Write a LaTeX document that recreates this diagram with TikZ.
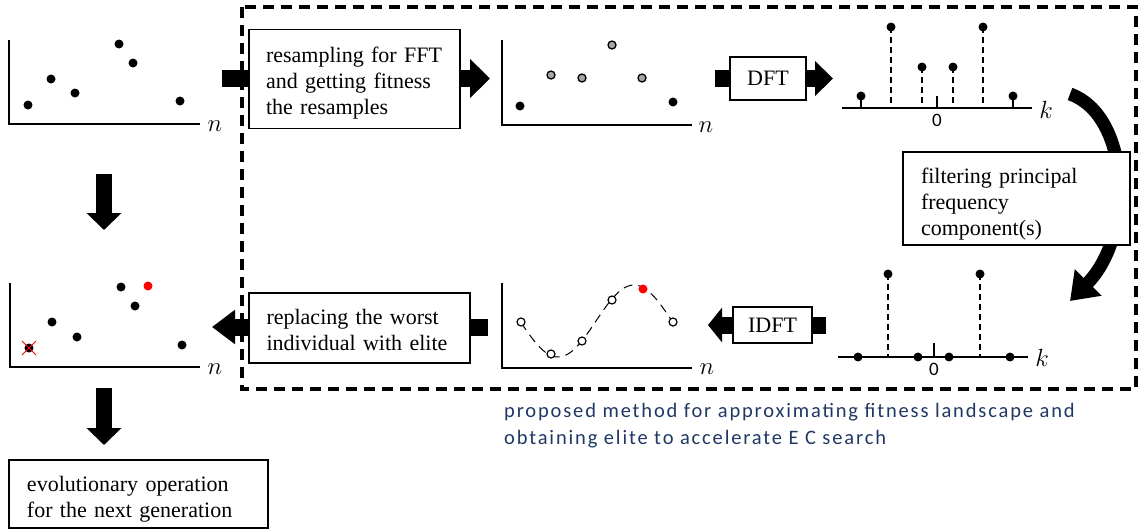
\documentclass[tikz,border=0pt]{standalone}
\usepackage{fontspec}
\setmainfont{Liberation Serif}
\newfontfamily\capfont[LetterSpace=9]{Carlito}
\newfontfamily\zerofont{Carlito}
\usetikzlibrary{arrows.meta}
\definecolor{capblue}{RGB}{31,56,100}
\begin{document}
\begin{tikzpicture}[x=1pt,y=-1pt,
  dot/.style={circle,fill=black,inner sep=0pt,minimum size=9pt},
  gdot/.style={circle,draw=black,fill=black!35,line width=1.3pt,inner sep=0pt,minimum size=8pt},
  odot/.style={circle,draw=black,fill=white,line width=1.2pt,inner sep=0pt,minimum size=8pt},
  rdot/.style={circle,fill=red,inner sep=0pt,minimum size=9pt},
  axis/.style={line width=1.3pt},
  stem/.style={line width=1.3pt,dash pattern=on 6pt off 4pt},
  axlabel/.style={inner sep=0pt,font=\fontsize{24}{24}\selectfont},
  zerolabel/.style={inner sep=0pt,font=\zerofont\fontsize{19}{19}\selectfont},
  procbox/.style={draw,line width=1.2pt,fill=white,align=left,inner sep=0pt,font=\fontsize{22}{26}\selectfont},
  stub/.style={line width=17pt},
  blockarrow/.style={line width=17pt,-{Triangle[length=20pt,width=38pt]}},
  downarrow/.style={line width=16pt,-{Triangle[length=17pt,width=34pt]}},
  frame/.style={line width=3.5pt,dash pattern=on 11pt off 7pt},
  caption/.style={anchor=base west,inner sep=0pt,text=capblue,font=\capfont\fontsize{20.5}{20.5}\selectfont}
]
\useasboundingbox (0,0) rectangle (1139,530);

% dashed frame
\draw[frame] (242,7) rectangle (1136,389);

% ---------- plot 1 (top left)
\draw[axis] (9,40) -- (9,124) -- (200,124);
\node[axlabel] (n1) at (215,126) {$n$};
\node[dot] (a1) at (28,105) {};
\node[dot] (a2) at (51,79) {};
\node[dot] (a3) at (75,93) {};
\node[dot] (a4) at (119,44) {};
\node[dot] (a5) at (133,63) {};
\node[dot] (a6) at (180,101) {};

% ---------- plot 2 (top middle)
\draw[axis] (502,40) -- (502,125) -- (692,125);
\node[axlabel] (n2) at (706,127) {$n$};
\node[dot] (b1) at (520,106) {};
\node[gdot] (b2) at (551,75) {};
\node[gdot] (b3) at (582,78) {};
\node[gdot] (b4) at (612,45) {};
\node[gdot] (b5) at (642,78) {};
\node[dot] (b6) at (673,102) {};

% ---------- plot 3 (spectrum)
\draw[axis] (842,108) -- (1032,108);
\node[axlabel] (k1) at (1046,110) {$k$};
\draw[axis] (937,96) -- (937,108);
\node[zerolabel] (z1) at (937,120) {0};
\draw[axis] (861,96) -- (861,108);
\draw[axis] (1013,96) -- (1013,108);
\draw[stem] (891,27) -- (891,108);
\draw[stem] (922,67) -- (922,108);
\draw[stem] (953,67) -- (953,108);
\draw[stem] (983,27) -- (983,108);
\node[dot] (c1) at (861,96) {};
\node[dot] (c2) at (891,27) {};
\node[dot] (c3) at (922,67) {};
\node[dot] (c4) at (953,67) {};
\node[dot] (c5) at (983,27) {};
\node[dot] (c6) at (1013,96) {};

% ---------- plot 4 (filtered spectrum)
\draw[axis] (838,357) -- (1028,357);
\node[axlabel] (k2) at (1042,358) {$k$};
\draw[axis] (934,343) -- (934,357);
\node[zerolabel] (z2) at (934,369) {0};
\draw[stem] (888,274) -- (888,357);
\draw[stem] (980,274) -- (980,357);
\node[dot] (d1) at (858,357) {};
\node[dot] (d2) at (888,274) {};
\node[dot] (d3) at (918,357) {};
\node[dot] (d4) at (949,357) {};
\node[dot] (d5) at (980,274) {};
\node[dot] (d6) at (1010,357) {};

% ---------- plot 5 (approximated landscape)
\draw[axis] (502,283) -- (502,368) -- (692,368);
\node[axlabel] (n5) at (707,369) {$n$};
\draw[line width=1pt,dash pattern=on 9pt off 6pt] plot[domain=521:673,samples=80,smooth] (\x,{321+36*cos((\x-558)/76*180)});
\node[odot] (e1) at (521,322) {};
\node[odot] (e2) at (551,354) {};
\node[odot] (e3) at (582,341) {};
\node[odot] (e4) at (612,300) {};
\node[rdot] (e5) at (643,289) {};
\node[odot] (e6) at (673,322) {};

% ---------- plot 6 (bottom left)
\draw[axis] (10,283) -- (10,367) -- (200,367);
\node[axlabel] (n6) at (215,369) {$n$};
\node[dot] (f1) at (29,348) {};
\node[dot] (f2) at (52,322) {};
\node[dot] (f3) at (77,337) {};
\node[dot] (f4) at (121,287) {};
\node[dot] (f5) at (135,306) {};
\node[dot] (f6) at (182,345) {};
\node[rdot] (f7) at (148,286) {};
\draw[red,line width=0.9pt] (22,341) -- (36,355) (22,355) -- (36,341);

% ---------- boxes
\node[procbox,minimum width=211pt,minimum height=99pt,text width=177pt] (resamp) at (354.5,79)
  {\rule{0pt}{23pt}resampling for FFT\\and getting fitness\\the resamples};
\node[procbox,minimum width=76pt,minimum height=43pt,align=center] (dft) at (768,78.5) {DFT};
\node[procbox,minimum width=79pt,minimum height=36pt,align=center] (idft) at (772.5,325) {IDFT};
\node[procbox,minimum width=221pt,minimum height=70pt,text width=186pt] (repl) at (359.5,328)
  {\rule{0pt}{19pt}replacing the worst\\individual with elite};
\node[procbox,minimum width=259pt,minimum height=68pt,text width=223pt] (evo) at (138.5,494)
  {\rule{0pt}{25pt}evolutionary operation\\for the next generation};

% curved arrow behind filter box
\coordinate (cstart) at (1070,94);
\coordinate (cend) at (1070,301);
\draw[line width=13pt,-{Triangle[length=26pt,width=36pt]}] (cstart) .. controls (1130,115) and (1135,235) .. (cend);
\node[procbox,minimum width=227pt,minimum height=93pt,text width=191pt] (filt) at (1016.5,198.5)
  {\rule{0pt}{27pt}filtering principal\\frequency\\component(s)};

% ---------- block arrows
\coordinate (s1) at (222,78.5);
\coordinate (t1) at (490,78.5);
\draw[stub] (s1) -- (s1 -| resamp.west);
\draw[blockarrow] (resamp.east |- t1) -- (t1);

\coordinate (s2) at (715,78.5);
\coordinate (t2) at (833,78.5);
\draw[stub] (s2) -- (dft.west);
\draw[line width=17pt,-{Triangle[length=18pt,width=34pt]}] (dft.east) -- (t2);

\coordinate (s3) at (826,325);
\coordinate (t3) at (708,325);
\draw[stub] (s3) -- (idft.east);
\draw[line width=17pt,-{Triangle[length=14pt,width=34pt]}] (idft.west) -- (t3);

\coordinate (s4) at (488,327);
\coordinate (t4) at (212,327);
\draw[stub] (s4) -- (s4 -| repl.east);
\draw[line width=17pt,-{Triangle[length=23pt,width=33pt]}] (repl.west |- t4) -- (t4);

\coordinate (u1) at (104,174);
\coordinate (v1) at (104,230);
\draw[downarrow] (u1) -- (v1);
\coordinate (u2) at (104,388);
\coordinate (v2) at (104,445);
\draw[downarrow] (u2) -- (v2);

% ---------- caption
\node[caption] (cap1) at (504,417) {proposed method for approximating fitness landscape and};
\node[caption] (cap2) at (504,444) {obtaining elite to accelerate E C search};
\end{tikzpicture}
\end{document}
